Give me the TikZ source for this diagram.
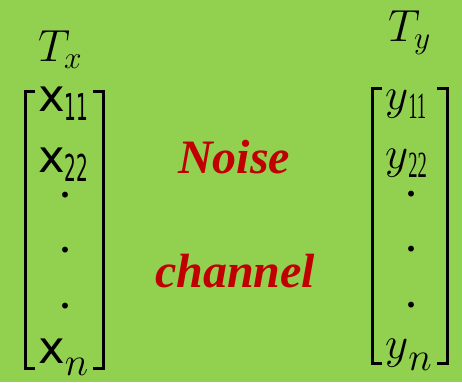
\documentclass[tikz,border=0pt]{standalone}
\usepackage{fix-cm}
\usepackage{fontspec}
\usepackage{graphicx}
\setmainfont{Liberation Serif}
\newfontfamily\sansx{DejaVu Sans}
\definecolor{bggreen}{HTML}{92D050}
\definecolor{noisered}{HTML}{C00000}
% subscript digits, narrow and set low
\newcommand\lowsub[1]{\raisebox{-9pt}{\fontsize{37}{37}\selectfont\scalebox{0.5}[1]{#1}}}
\newcommand\lown{\raisebox{-12pt}{\fontsize{40}{40}\selectfont$n$}}
\begin{document}
\begin{tikzpicture}[x=1pt, y=-1pt,
    mentry/.style={anchor=base west, inner sep=0pt, font=\fontsize{45}{45}\selectfont},
    dotmark/.style={anchor=base, inner sep=0pt, font=\bfseries\fontsize{36}{36}\selectfont},
    bracket/.style={line width=3pt, line join=miter},
    channeltext/.style={anchor=base west, inner sep=0pt, text=noisered,
        font=\bfseries\itshape\fontsize{48}{48}\selectfont}]
    % background
    \fill[bggreen] (0,0) rectangle (462,382);
    \useasboundingbox (0,0) rectangle (462,382);

    % titles
    \node[mentry] (tx) at (38,62) {$T_x$};
    \node[mentry] (ty) at (388,42) {$T_y$};

    % brackets
    \foreach \xa/\xb/\ya/\yb in {35/25/92/368, 93/103/92/368, 382/372/89/363, 437/447/89/363} {
        \draw[bracket] (\xa,\ya) -| (\xb,\yb) -- (\xa,\yb);
    }

    % left column
    \node[mentry] (x11) at (38,112) {\sansx x\lowsub{11}};
    \node[mentry] (x22) at (38,172) {\sansx x\lowsub{22}};
    \node[mentry] (xn) at (38,363) {\sansx x\lown};

    % right column
    \node[mentry] (y11) at (385,110) {$y$\lowsub{11}};
    \node[mentry] (y22) at (385,168) {$y$\lowsub{22}};
    \node[mentry] (yn) at (385,358) {$y$\lown};

    % dots
    \foreach \i/\y in {1/197, 2/252, 3/308} {
        \node[dotmark] (ld\i) at (65,\y) {.};
        \node[dotmark] (rd\i) at (411,\y-1) {.};
    }

    % channel
    \node[channeltext] (noise) at (178,173) {Noise};
    \node[channeltext] (channel) at (155,287) {channel};
\end{tikzpicture}
\end{document}
